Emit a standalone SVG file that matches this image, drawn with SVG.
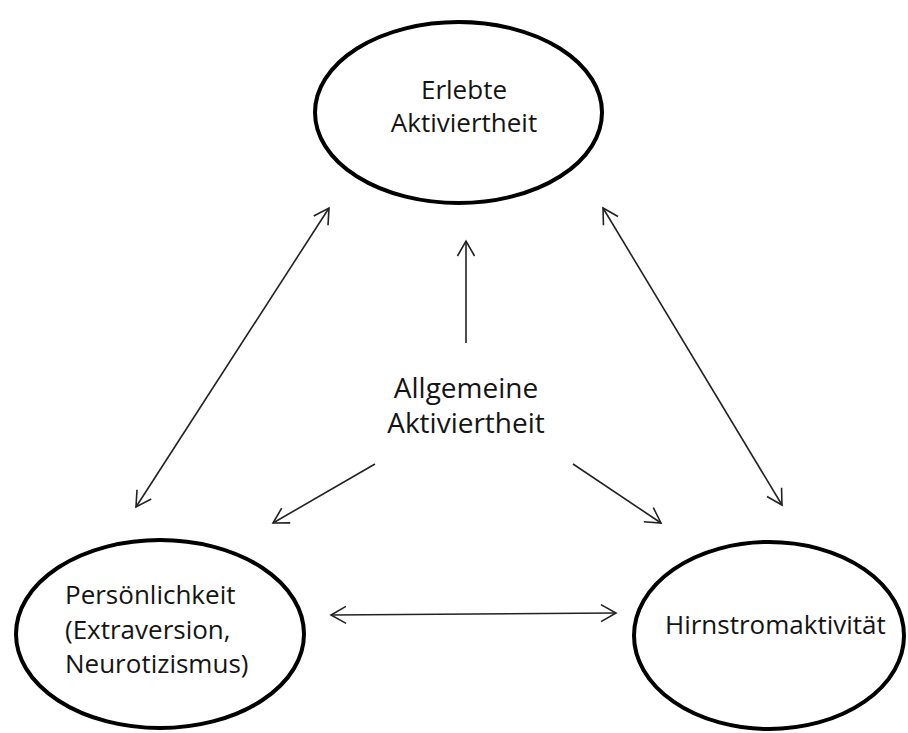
<svg xmlns="http://www.w3.org/2000/svg" width="908" height="733" viewBox="0 0 908 733">
  <style>
    .node { fill: #ffffff; stroke: #000000; stroke-width: 4; }
    .label { font-family: "Open Sans", "Noto Sans", "Liberation Sans", sans-serif; font-size: 26px; fill: #141414; }
    .mid { text-anchor: middle; }
    .big { font-size: 28px; }
    .link { fill: none; stroke: #222222; stroke-width: 1.6; }
  </style>
  <defs>
    <!-- open V arrowhead, reversed automatically at line starts -->
    <marker id="vhead" markerUnits="userSpaceOnUse" orient="auto-start-reverse" refX="0" refY="0" markerWidth="40" markerHeight="40" viewBox="-20 -20 40 40" overflow="visible">
      <path d="M-15,-8.5 L0,0 L-15,8.5" fill="none" stroke="#222222" stroke-width="1.6" stroke-linejoin="miter"/>
    </marker>
  </defs>
  <rect width="908" height="733" fill="#ffffff"/>

  <!-- connectors -->
  <g id="connectors">
    <line class="link" x1="136" y1="507" x2="329" y2="208" marker-start="url(#vhead)" marker-end="url(#vhead)"/>
    <line class="link" x1="603" y1="208" x2="782" y2="505" marker-start="url(#vhead)" marker-end="url(#vhead)"/>
    <line class="link" x1="466" y1="343" x2="466" y2="241" marker-end="url(#vhead)"/>
    <line class="link" x1="375" y1="464" x2="273" y2="523" marker-end="url(#vhead)"/>
    <line class="link" x1="573" y1="464" x2="661" y2="523" marker-end="url(#vhead)"/>
    <line class="link" x1="331" y1="615" x2="616" y2="613" marker-start="url(#vhead)" marker-end="url(#vhead)"/>
  </g>

  <!-- nodes -->
  <g id="erlebte-aktiviertheit">
    <ellipse class="node" cx="458.5" cy="112.5" rx="143.5" ry="90.5"/>
    <text class="label mid" x="464" y="99">Erlebte</text>
    <text class="label mid" x="464" y="132">Aktiviertheit</text>
  </g>

  <g id="allgemeine-aktiviertheit">
    <text class="label mid big" x="466" y="398">Allgemeine</text>
    <text class="label mid big" x="466" y="433">Aktiviertheit</text>
  </g>

  <g id="persoenlichkeit">
    <ellipse class="node" cx="160" cy="634" rx="144" ry="94"/>
    <text class="label" x="65" y="604">Persönlichkeit</text>
    <text class="label" x="65" y="639">(Extraversion,</text>
    <text class="label" x="65" y="673">Neurotizismus)</text>
  </g>

  <g id="hirnstromaktivitaet">
    <ellipse class="node" cx="769" cy="635.5" rx="135" ry="93.5"/>
    <text class="label" x="665" y="634">Hirnstromaktivität</text>
  </g>
</svg>
